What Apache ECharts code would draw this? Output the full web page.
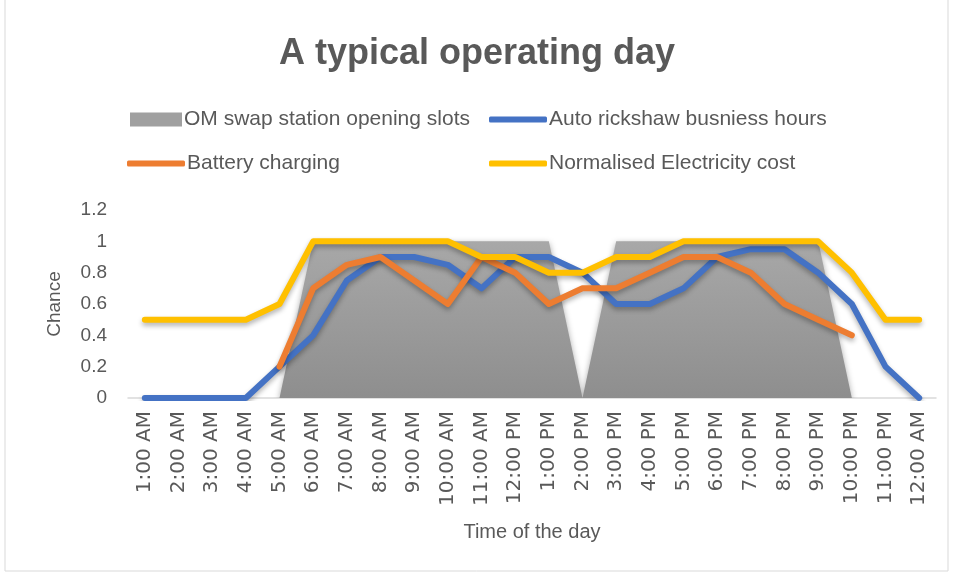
<!DOCTYPE html>
<html>
<head>
<meta charset="utf-8">
<script src="https://cdn.jsdelivr.net/npm/echarts@6/dist/echarts.min.js"></script>
<style>
  html, body { margin: 0; padding: 0; background: #fff; }
  #main { width: 954px; height: 575px; }
</style>
</head>
<body>
<div id="main"></div>
<script>
// hours of the day
var hours = ['1:00 AM','2:00 AM','3:00 AM','4:00 AM','5:00 AM','6:00 AM','7:00 AM','8:00 AM',
  '9:00 AM','10:00 AM','11:00 AM','12:00 PM','1:00 PM','2:00 PM','3:00 PM','4:00 PM',
  '5:00 PM','6:00 PM','7:00 PM','8:00 PM','9:00 PM','10:00 PM','11:00 PM','12:00 AM'];

var swapSlots   = [0,0,0,0,0,1,1,1,1,1,1,1,1,0,1,1,1,1,1,1,1,0,0,0];
var rickshaw    = [0,0,0,0,0.2,0.4,0.75,0.9,0.9,0.85,0.7,0.9,0.9,0.8,0.6,0.6,0.7,0.9,0.95,0.95,0.8,0.6,0.2,0];
var charging    = ['-','-','-','-',0.2,0.7,0.85,0.9,0.75,0.6,0.9,0.8,0.6,0.7,0.7,0.8,0.9,0.9,0.8,0.6,0.5,0.4,'-','-'];
var elecCost    = [0.5,0.5,0.5,0.5,0.6,1,1,1,1,1,0.9,0.9,0.8,0.8,0.9,0.9,1,1,1,1,1,0.8,0.5,0.5];

var font = 'Liberation Sans';
var txt = '#595959';

function lineSeries(name, data, color) {
  return {
    name: name, type: 'line', data: data, symbol: 'none',
    lineStyle: { color: color, width: 6, cap: 'round', join: 'round',
      shadowColor: 'rgba(0,0,0,0.3)', shadowBlur: 5, shadowOffsetY: 3 },
    itemStyle: { color: color }
  };
}

function legendItem(name, left, top, isArea) {
  return {
    left: left, top: top, itemGap: 0,
    itemWidth: isArea ? 52 : 58, itemHeight: isArea ? 14 : 6,
    icon: isArea ? 'rect' : 'roundRect',
    textStyle: { fontFamily: font, fontSize: 21, color: txt, padding: [0, 0, 0, -3] },
    data: [name]
  };
}

var myChart = echarts.init(document.getElementById('main'));
myChart.setOption({
  animation: false,
  title: {
    text: 'A typical operating day', left: 'center', top: 31,
    textStyle: { fontFamily: font, fontSize: 36, fontWeight: 'bold', color: txt }
  },
  legend: [
    legendItem('OM swap station opening slots', 125, 104, true),
    legendItem('Auto rickshaw busniess hours', 484, 104, false),
    legendItem('Battery charging', 122, 148, false),
    legendItem('Normalised Electricity cost', 484, 148, false)
  ],
  graphic: [{
    type: 'rect', z: -1,
    shape: { x: 5, y: -1, width: 943, height: 572 },
    style: { fill: 'none', stroke: '#d9d9d9', lineWidth: 1 }
  }],
  grid: { left: 128, right: 18, top: 210, bottom: 177 },
  xAxis: {
    type: 'category', data: hours,
    name: 'Time of the day', nameLocation: 'middle', nameGap: 124,
    nameTextStyle: { fontFamily: font, fontSize: 20, color: txt },
    axisLine: { lineStyle: { color: '#d9d9d9', width: 1.5 } },
    axisTick: { show: false },
    axisLabel: { interval: 0, rotate: 90, margin: 13, fontFamily: 'DejaVu Sans', fontSize: 20, color: txt }
  },
  yAxis: {
    type: 'value', min: 0, max: 1.2, interval: 0.2,
    name: 'Chance', nameLocation: 'middle', nameGap: 64, nameRotate: 90,
    nameTextStyle: { fontFamily: font, fontSize: 19, color: txt },
    axisLine: { show: false }, axisTick: { show: false },
    splitLine: { show: false },
    axisLabel: { margin: 21, fontFamily: font, fontSize: 19, color: txt }
  },
  series: [{
    name: 'OM swap station opening slots', type: 'line', data: swapSlots, symbol: 'none',
    lineStyle: { width: 0 },
    itemStyle: { color: '#a0a0a0' },
    areaStyle: {
      color: new echarts.graphic.LinearGradient(0, 0, 0, 1, [
        { offset: 0, color: '#a8a8a8' }, { offset: 1, color: '#8e8e8e' }
      ]),
      opacity: 1, shadowColor: 'rgba(0,0,0,0.35)', shadowBlur: 6, shadowOffsetY: 2
    }
  },
  lineSeries('Auto rickshaw busniess hours', rickshaw, '#4472C4'),
  lineSeries('Battery charging', charging, '#ED7D31'),
  lineSeries('Normalised Electricity cost', elecCost, '#FFC000')
  ]
});
</script>
</body>
</html>
